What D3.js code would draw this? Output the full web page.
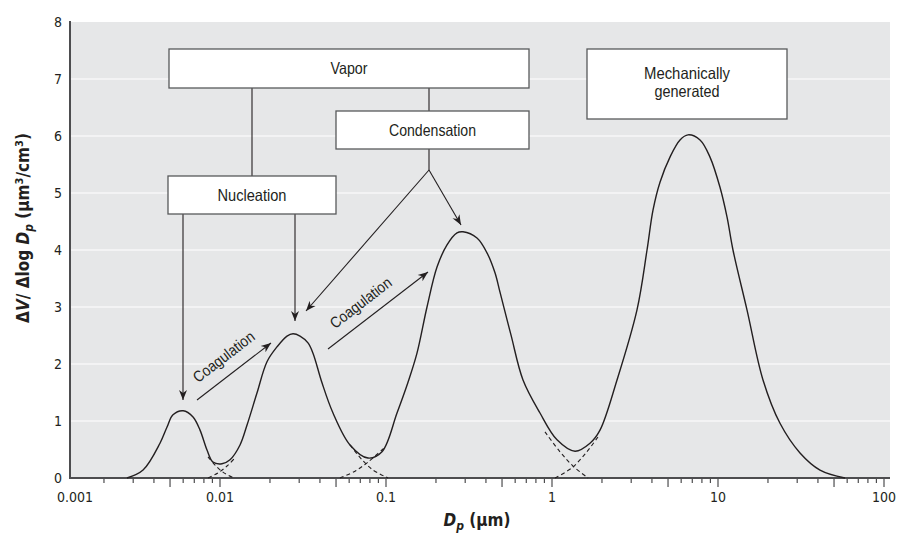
<!DOCTYPE html>
<html>
<head>
<meta charset="utf-8">
<script src="https://cdn.jsdelivr.net/npm/d3@7"></script>
<style>
  html, body { margin: 0; padding: 0; background: #fff; }
  svg { display: block; }
  text { font-family: "Liberation Sans Narrow", "Arial Narrow", "DejaVu Sans Condensed", sans-serif; fill: #231f20; }
  text.note { font-family: "Liberation Sans", Arial, sans-serif; }
</style>
</head>
<body>
<svg id="chart" width="899" height="535"></svg>
<script>
// ---------------- data ----------------
// Total volume distribution (solid envelope): diameter in µm, dV/dlogDp
const diameters = [0.00275, 0.00344, 0.00435, 0.00479, 0.00521, 0.0060, 0.00688, 0.00758, 0.00835, 0.00907,
  0.01028, 0.01149, 0.0132, 0.01455, 0.0167, 0.01919, 0.02204, 0.02533, 0.02753, 0.03034,
  0.03389, 0.03632, 0.04116, 0.04795, 0.06069, 0.07789, 0.09461, 0.1165, 0.1357, 0.1537,
  0.1766, 0.2029, 0.2331, 0.2677, 0.291, 0.3533, 0.4059, 0.4535, 0.4861, 0.566,
  0.6688, 0.8466, 1.072, 1.376, 1.694, 1.946, 2.464, 3.251, 3.736, 4.059,
  4.473, 5.138, 5.904, 6.597, 7.792, 8.950, 10.28, 11.33, 12.31,
  14.95, 18.67, 23.63, 31.19, 41.16, 58.23];
const volumes = [0, 0.14, 0.61, 0.89, 1.11, 1.18, 1.07, 0.84, 0.49, 0.28,
  0.25, 0.32, 0.58, 0.93, 1.49, 2.04, 2.30, 2.49, 2.53, 2.49,
  2.37, 2.19, 1.67, 1.14, 0.58, 0.35, 0.46, 1.14, 1.68, 2.19,
  3.0, 3.70, 4.09, 4.30, 4.32, 4.21, 3.95, 3.60, 3.26, 2.51,
  1.72, 1.14, 0.67, 0.47, 0.61, 0.84, 1.72, 2.95, 4.0, 4.70,
  5.19, 5.63, 5.93, 6.02, 5.93, 5.63, 5.1, 4.58, 4.0,
  2.95, 1.72, 0.96, 0.44, 0.14, 0];

// Overlapping tails of the individual modes (dashed)
const tailDiameters = [
  [0.00847, 0.00946, 0.01057, 0.01214],
  [0.00847, 0.00973, 0.01102, 0.01249],
  [0.0607, 0.0717, 0.0835, 0.1028],
  [0.0528, 0.0651, 0.0779, 0.0986],
  [0.907, 1.117, 1.338, 1.648],
  [1.043, 1.32, 1.602, 1.893]
];
const tailValues = [
  [0.37, 0.21, 0.09, 0],
  [0, 0.09, 0.21, 0.37],
  [0.58, 0.32, 0.14, 0],
  [0, 0.12, 0.28, 0.54],
  [0.81, 0.46, 0.21, 0],
  [0, 0.18, 0.44, 0.72]
];

const yTicks = [0, 1, 2, 3, 4, 5, 6, 7, 8];
const xMajorTicks = [0.001, 0.01, 0.1, 1, 10, 100];
const xTickLabels = ["0.001", "0.01", "0.1", "1", "10", "100"];

// ---------------- layout ----------------
const svg = d3.select("#chart");
const plot = { left: 70, right: 890, top: 22, bottom: 478 };

const x = d3.scaleLog().domain([0.001, 100]).range([54, 884]);
const y = d3.scaleLinear().domain([0, 8]).range([478, 22]);

const defs = svg.append("defs");
defs.append("marker")
  .attr("id", "arrow").attr("viewBox", "0 0 10 10")
  .attr("refX", 10).attr("refY", 5)
  .attr("markerWidth", 10).attr("markerHeight", 10)
  .attr("markerUnits", "userSpaceOnUse")
  .attr("orient", "auto")
  .append("path").attr("d", "M0,1 L10,5 L0,9 L3,5 Z").attr("fill", "#231f20");

// plot background
svg.append("rect")
  .attr("x", plot.left).attr("y", plot.top)
  .attr("width", plot.right - plot.left).attr("height", plot.bottom - plot.top)
  .attr("fill", "#e6e7e8");

// gridlines
svg.append("g").selectAll("line").data(yTicks.filter(d => d > 0 && d < 8)).join("line")
  .attr("x1", plot.left).attr("x2", plot.right)
  .attr("y1", d => y(d)).attr("y2", d => y(d))
  .attr("stroke", "#ffffff").attr("stroke-width", 1.2);

// y tick labels
svg.append("g").selectAll("text").data(yTicks).join("text")
  .attr("x", 62).attr("y", d => y(d) + 5)
  .attr("text-anchor", "end").attr("font-size", 14)
  .text(d => d);

// x ticks (major + minor)
const allTicks = [];
for (let e = -3; e < 2; e++) {
  for (let m = 1; m <= 9; m++) allTicks.push({ v: m * Math.pow(10, e), m: m });
}
allTicks.push({ v: 100, m: 1 });
svg.append("g").selectAll("line").data(allTicks.filter(t => x(t.v) > plot.left + 2)).join("line")
  .attr("x1", t => x(t.v)).attr("x2", t => x(t.v))
  .attr("y1", plot.bottom).attr("y2", t => plot.bottom + ((t.m === 1 || t.m === 5) ? 9 : 5))
  .attr("stroke", "#4d4d4f").attr("stroke-width", 1.2);

svg.append("g").selectAll("text").data(xMajorTicks).join("text")
  .attr("x", d => Math.max(x(d), 75)).attr("y", 502)
  .attr("text-anchor", "middle").attr("font-size", 14)
  .text((d, i) => xTickLabels[i]);

// axes lines
svg.append("line").attr("x1", plot.left).attr("x2", plot.left)
  .attr("y1", plot.top - 1).attr("y2", plot.bottom + 1)
  .attr("stroke", "#4d4d4f").attr("stroke-width", 2);
svg.append("line").attr("x1", plot.left).attr("x2", plot.right)
  .attr("y1", plot.bottom).attr("y2", plot.bottom)
  .attr("stroke", "#4d4d4f").attr("stroke-width", 2);

// dashed mode tails
const line = d3.line().x(d => x(d[0])).y(d => y(d[1])).curve(d3.curveCatmullRom.alpha(0.5));
tailDiameters.forEach((ds, i) => {
  svg.append("path")
    .attr("d", line(ds.map((d, j) => [d, tailValues[i][j]])))
    .attr("fill", "none").attr("stroke", "#231f20")
    .attr("stroke-width", 1.1).attr("stroke-dasharray", "4,3");
});

// envelope
svg.append("path")
  .attr("d", line(diameters.map((d, i) => [d, volumes[i]])))
  .attr("fill", "none").attr("stroke", "#231f20").attr("stroke-width", 1.4);

// ---------------- annotation diagram ----------------
const boxes = [
  { x0: 169, y0: 49, x1: 529, y1: 88, lines: ["Vapor"], widths: [37], base: [74] },
  { x0: 336, y0: 111, x1: 529, y1: 149, lines: ["Condensation"], widths: [87], base: [136] },
  { x0: 168, y0: 176, x1: 336, y1: 214, lines: ["Nucleation"], widths: [69], base: [201] },
  { x0: 587, y0: 49, x1: 787, y1: 119, lines: ["Mechanically", "generated"], widths: [86, 65], base: [79, 97] }
];
const connectors = [
  [252, 88, 252, 176, false],
  [429, 88, 429, 111, false],
  [429, 149, 429, 170, false],
  [429, 170, 306, 311, true],
  [429, 170, 461, 225, true],
  [183, 214, 183, 400, true],
  [295, 214, 295, 321, true],
  [197, 400, 271, 343, true],
  [328, 349, 428, 272, true]
];
const g = svg.append("g");
connectors.forEach(c => {
  g.append("line").attr("x1", c[0]).attr("y1", c[1]).attr("x2", c[2]).attr("y2", c[3])
    .attr("stroke", "#231f20").attr("stroke-width", 1.1)
    .attr("marker-end", c[4] ? "url(#arrow)" : null);
});
boxes.forEach(b => {
  g.append("rect").attr("x", b.x0).attr("y", b.y0)
    .attr("width", b.x1 - b.x0).attr("height", b.y1 - b.y0)
    .attr("fill", "#ffffff").attr("stroke", "#58595b").attr("stroke-width", 1.3);
  const cx = (b.x0 + b.x1) / 2;
  b.lines.forEach((t, i) => {
    g.append("text").attr("class", "note")
      .attr("x", cx).attr("y", b.base[i])
      .attr("text-anchor", "middle").attr("font-size", 16.5)
      .attr("textLength", b.widths[i]).attr("lengthAdjust", "spacingAndGlyphs")
      .text(t);
  });
});
[[227, 361], [364, 307]].forEach(p => {
  g.append("text").attr("class", "note")
    .attr("transform", `translate(${p[0]},${p[1]}) rotate(-37.6)`)
    .attr("text-anchor", "middle").attr("font-size", 15.5)
    .attr("textLength", 73).attr("lengthAdjust", "spacingAndGlyphs")
    .text("Coagulation");
});

// ---------------- axis titles ----------------
const yt = svg.append("text")
  .attr("transform", "translate(29,228) rotate(-90)")
  .attr("text-anchor", "middle").attr("font-size", 17).attr("font-weight", "bold");
yt.append("tspan").text("Δ");
yt.append("tspan").attr("font-style", "italic").text("V");
yt.append("tspan").text("/ Δlog ");
yt.append("tspan").attr("font-style", "italic").text("D");
yt.append("tspan").attr("font-style", "italic").attr("font-size", 12).attr("dy", 4).text("p");
yt.append("tspan").attr("dy", -4).text(" (µm");
yt.append("tspan").attr("font-size", 11).attr("dy", -6).text("3");
yt.append("tspan").attr("dy", 6).text("/cm");
yt.append("tspan").attr("font-size", 11).attr("dy", -6).text("3");
yt.append("tspan").attr("dy", 6).text(")");

const xt = svg.append("text")
  .attr("x", 477).attr("y", 526)
  .attr("text-anchor", "middle").attr("font-size", 17).attr("font-weight", "bold");
xt.append("tspan").attr("font-style", "italic").text("D");
xt.append("tspan").attr("font-style", "italic").attr("font-size", 12).attr("dy", 4).text("p");
xt.append("tspan").attr("dy", -4).text(" (µm)");
</script>
</body>
</html>
